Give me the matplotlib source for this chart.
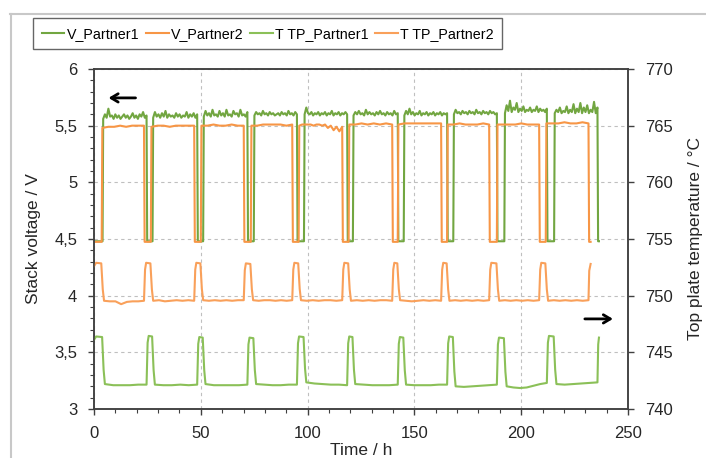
import numpy as np
import matplotlib.pyplot as plt
from matplotlib.ticker import MultipleLocator, FuncFormatter
from matplotlib.lines import Line2D

plt.rcParams['font.family'] = ['Liberation Sans', 'DejaVu Sans']

# hold periods at low voltage (start, end) in h
p1_low = [(0.0, 4.0), (24.6, 27.4), (48.3, 51.1), (71.8, 74.8), (95.0, 98.3),
          (118.5, 121.2), (142.2, 145.0), (165.3, 168.2), (188.6, 192.1),
          (212.0, 215.4), (235.7, 236.4)]
p2_low = [(0.0, 3.6), (23.4, 26.6), (46.9, 50.0), (70.1, 73.4), (92.8, 95.8),
          (116.2, 119.2), (139.6, 142.2), (162.5, 165.3), (185.0, 188.6),
          (208.4, 211.5), (231.5, 232.5)]

p1_v_low = 4.48
p2_v_low = 4.475

# stack voltage on the high plateaus
p1_v_high = [
    [5.56, 5.60, 5.57, 5.65, 5.58, 5.59, 5.56, 5.60, 5.57, 5.59, 5.56, 5.58, 5.60,
     5.57, 5.59, 5.56, 5.58, 5.61, 5.57, 5.59, 5.56, 5.60, 5.58, 5.62, 5.57, 5.59],
    [5.57, 5.62, 5.58, 5.60, 5.57, 5.61, 5.58, 5.63, 5.57, 5.60, 5.58, 5.59, 5.57,
     5.61, 5.58, 5.60, 5.57, 5.59, 5.58, 5.62, 5.57, 5.60, 5.58, 5.61, 5.57, 5.60],
    [5.58, 5.63, 5.59, 5.61, 5.58, 5.64, 5.59, 5.60, 5.58, 5.63, 5.59, 5.61, 5.58,
     5.64, 5.59, 5.60, 5.58, 5.63, 5.60, 5.61, 5.58, 5.64, 5.59, 5.60, 5.58, 5.62],
    [5.59, 5.62, 5.60, 5.61, 5.59, 5.63, 5.60, 5.61, 5.59, 5.62, 5.60, 5.61, 5.59,
     5.60, 5.61, 5.59, 5.62, 5.60, 5.61, 5.59, 5.63, 5.60, 5.61, 5.59, 5.62, 5.60],
    [5.60, 5.66, 5.61, 5.60, 5.62, 5.59, 5.61, 5.60, 5.62, 5.59, 5.61, 5.60, 5.62,
     5.59, 5.61, 5.60, 5.63, 5.59, 5.61, 5.60, 5.62, 5.59, 5.61, 5.60, 5.62, 5.60],
    [5.59, 5.62, 5.60, 5.63, 5.60, 5.61, 5.59, 5.64, 5.60, 5.62, 5.60, 5.61, 5.59,
     5.62, 5.60, 5.63, 5.60, 5.61, 5.59, 5.62, 5.60, 5.61, 5.59, 5.63, 5.60, 5.61],
    [5.59, 5.63, 5.60, 5.65, 5.60, 5.62, 5.59, 5.61, 5.60, 5.63, 5.59, 5.61, 5.60,
     5.62, 5.59, 5.61, 5.60, 5.62, 5.59, 5.61, 5.60, 5.62, 5.59, 5.61, 5.60, 5.61],
    [5.60, 5.64, 5.61, 5.62, 5.60, 5.63, 5.61, 5.62, 5.60, 5.63, 5.61, 5.62, 5.60,
     5.64, 5.61, 5.62, 5.60, 5.63, 5.61, 5.62, 5.60, 5.63, 5.61, 5.62, 5.60, 5.61],
    [5.61, 5.68, 5.63, 5.72, 5.62, 5.66, 5.64, 5.70, 5.62, 5.65, 5.63, 5.67, 5.62,
     5.64, 5.63, 5.66, 5.62, 5.64, 5.63, 5.67, 5.62, 5.65, 5.63, 5.64, 5.62, 5.65],
    [5.61, 5.64, 5.62, 5.66, 5.61, 5.63, 5.62, 5.67, 5.61, 5.64, 5.62, 5.69, 5.61,
     5.65, 5.62, 5.70, 5.61, 5.66, 5.62, 5.68, 5.61, 5.64, 5.62, 5.71, 5.61, 5.66],
]
p2_v_high = [
    [5.48, 5.49, 5.49, 5.50, 5.49, 5.50, 5.50, 5.50],
    [5.49, 5.50, 5.50, 5.49, 5.50, 5.50, 5.50, 5.50],
    [5.50, 5.50, 5.51, 5.50, 5.50, 5.51, 5.50, 5.50],
    [5.50, 5.50, 5.51, 5.51, 5.51, 5.51, 5.50, 5.51],
    [5.50, 5.51, 5.51, 5.51, 5.51, 5.50, 5.51, 5.51, 5.50, 5.51, 5.48, 5.50,
     5.46, 5.49, 5.45, 5.49],
    [5.51, 5.51, 5.52, 5.51, 5.52, 5.51, 5.52, 5.51],
    [5.51, 5.52, 5.52, 5.52, 5.52, 5.52, 5.52, 5.52],
    [5.51, 5.51, 5.52, 5.51, 5.51, 5.51, 5.52, 5.51],
    [5.51, 5.51, 5.51, 5.51, 5.52, 5.51, 5.51, 5.51],
    [5.52, 5.52, 5.52, 5.53, 5.52, 5.52, 5.53, 5.52],
]

# top plate temperature: peak level during each hold, baseline in between
p1_t_peak = [746.4, 746.45, 746.35, 746.3, 746.4, 746.4, 746.35, 746.4, 746.3, 746.45, 746.3]
p2_t_peak = [752.9, 752.9, 752.9, 752.85, 752.9, 752.9, 752.9, 752.9, 752.9, 752.9, 752.8]
p1_t_base = [
    [742.2, 742.1, 742.1, 742.1, 742.15, 742.15],
    [742.15, 742.1, 742.1, 742.15, 742.1, 742.15],
    [742.2, 742.1, 742.1, 742.1, 742.1, 742.15],
    [742.2, 742.15, 742.1, 742.1, 742.15, 742.15],
    [742.35, 742.25, 742.2, 742.15, 742.15, 742.1],
    [742.2, 742.15, 742.1, 742.1, 742.1, 742.15],
    [742.15, 742.1, 742.1, 742.1, 742.15, 742.15],
    [742.0, 741.95, 742.0, 742.05, 742.1, 742.15],
    [742.0, 741.9, 741.85, 741.9, 742.05, 742.2, 742.3],
    [742.2, 742.15, 742.2, 742.25, 742.3, 742.35],
]
p2_t_base = [
    [749.55, 749.5, 749.5, 749.25, 749.45, 749.5, 749.5, 749.55],
    [749.55, 749.6, 749.5, 749.55, 749.6, 749.55, 749.6, 749.55],
    [749.6, 749.55, 749.6, 749.55, 749.6, 749.55, 749.6, 749.6],
    [749.6, 749.55, 749.6, 749.6, 749.55, 749.6, 749.55, 749.6],
    [749.6, 749.55, 749.6, 749.55, 749.6, 749.6, 749.55, 749.6],
    [749.55, 749.6, 749.55, 749.6, 749.55, 749.6, 749.6, 749.55],
    [749.6, 749.55, 749.5, 749.55, 749.6, 749.55, 749.6, 749.55],
    [749.55, 749.6, 749.55, 749.6, 749.55, 749.6, 749.55, 749.6],
    [749.55, 749.6, 749.55, 749.6, 749.55, 749.6, 749.55, 749.6],
    [749.55, 749.6, 749.55, 749.6, 749.55, 749.6, 749.55, 749.6],
]


def voltage_trace(lows, highs, v_low):
    t, v = [], []
    for i, (a, b) in enumerate(lows):
        t += [a + 0.3 if i else a, b]
        v += [v_low, v_low]
        if i < len(highs):
            tt = np.linspace(b + 0.3, lows[i + 1][0], len(highs[i]))
            t += list(tt)
            v += highs[i]
    return t, v


def temp_trace(lows, peaks, bases):
    t, v = [], []
    for i, (a, b) in enumerate(lows):
        pk = peaks[i]
        if i == len(lows) - 1:
            t += [a + 0.35, b]
            v += [pk - 0.6, pk]
            break
        if i == 0:
            t += [a, a + 1.0]
            v += [pk - 0.3, pk]
        else:
            t += [a + 0.5, a + 1.0]
            v += [pk - 0.6, pk]
        b0 = bases[i][0]
        t += [b - 0.2, b + 0.5]
        v += [pk - 0.05, b0 + 0.3 * (pk - b0)]
        tt = np.linspace(b + 1.1, lows[i + 1][0], len(bases[i]))
        t += list(tt)
        v += bases[i]
    return t, v


green_v = '#72A641'
green_t = '#8BC058'
orange_v = '#F79646'
orange_t = '#F9A05A'
dark = '#404040'

fig = plt.figure(figsize=(7.06, 4.58), dpi=100)
ax = fig.add_axes([94 / 706, 49 / 458, 534 / 706, 340 / 458])
ax2 = ax.twinx()

t1, v1 = voltage_trace(p1_low, p1_v_high, p1_v_low)
t2, v2 = voltage_trace(p2_low, p2_v_high, p2_v_low)
l1, = ax.plot(t1, v1, color=green_v, lw=1.5, label='V_Partner1')
l2, = ax.plot(t2, v2, color=orange_v, lw=1.5, label='V_Partner2')

tt1, tv1 = temp_trace(p1_low, p1_t_peak, p1_t_base)
tt2, tv2 = temp_trace(p2_low, p2_t_peak, p2_t_base)
l3, = ax2.plot(tt1, tv1, color=green_t, lw=1.5, label='T TP_Partner1')
l4, = ax2.plot(tt2, tv2, color=orange_t, lw=1.5, label='T TP_Partner2')

ax.set_xlim(0, 250)
ax.set_ylim(3, 6)
ax2.set_ylim(740, 770)

ax.xaxis.set_major_locator(MultipleLocator(50))
ax.xaxis.set_minor_locator(MultipleLocator(10))
ax.yaxis.set_major_locator(MultipleLocator(0.5))
ax.yaxis.set_minor_locator(MultipleLocator(0.1))
ax2.yaxis.set_major_locator(MultipleLocator(5))
ax.yaxis.set_major_formatter(FuncFormatter(lambda y, p: ('%g' % y).replace('.', ',')))

ax.grid(True, which='major', color='#BFBFBF', linestyle=(0, (3, 3)), lw=0.8)
ax.set_axisbelow(True)

for a in (ax, ax2):
    for s in a.spines.values():
        s.set_color(dark)
        s.set_linewidth(1.1)
    a.tick_params(which='major', direction='out', length=4, width=1, color=dark,
                  labelsize=12, labelcolor='#262626', pad=8)
    a.tick_params(which='minor', direction='out', length=3, width=0.8, color=dark)

ax.set_xlabel('Time / h', fontsize=12.5, color='#262626')
ax.set_ylabel('Stack voltage / V', fontsize=12.5, color='#262626')
ax2.set_ylabel('Top plate temperature / °C', fontsize=12.5, color='#262626')
ax.xaxis.set_label_coords(0.5, -0.1)
ax.yaxis.set_label_coords(-0.1, 0.5)
ax2.yaxis.set_label_coords(1.112, 0.5)

# direction arrows pointing to the matching axis
ax.annotate('', xy=(0.022, 0.915), xytext=(0.083, 0.915), xycoords='axes fraction',
            arrowprops=dict(arrowstyle='->,head_length=0.5,head_width=0.3', lw=2, color='black'))
ax.annotate('', xy=(0.977, 0.265), xytext=(0.914, 0.265), xycoords='axes fraction',
            arrowprops=dict(arrowstyle='->,head_length=0.5,head_width=0.3', lw=2, color='black'))

leg = fig.legend([l1, l2, l3, l4], [h.get_label() for h in (l1, l2, l3, l4)],
                 loc='upper left', bbox_to_anchor=(33 / 706, 1 - 18 / 458), ncol=4,
                 fontsize=10.3, frameon=True, fancybox=False, edgecolor=dark,
                 handlelength=1.6, handletextpad=0.15, columnspacing=0.45,
                 borderpad=0.6, borderaxespad=0)
leg.get_frame().set_linewidth(1.0)

# light frame around the whole chart
fig.add_artist(Line2D([10 / 706, 1.0], [1 - 14 / 458, 1 - 14 / 458], color='#C8C8C8', lw=1.5))
fig.add_artist(Line2D([11 / 706, 11 / 706], [0.0, 1 - 14 / 458], color='#C8C8C8', lw=1.5))

fig.savefig('out.png', dpi=100)
